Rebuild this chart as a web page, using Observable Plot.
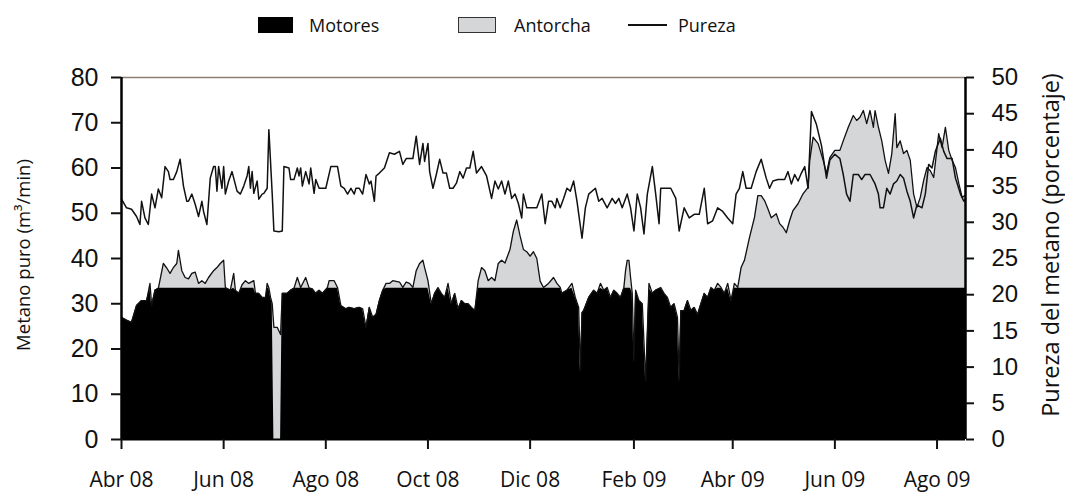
<!DOCTYPE html>
<html>
<head>
<meta charset="utf-8">
<script src="https://cdn.jsdelivr.net/npm/d3@7"></script>
<script src="https://cdn.jsdelivr.net/npm/@observablehq/plot@0.6"></script>
<style>
  body { margin: 0; background: #fff; font-family: "Open Sans", sans-serif; color: #111; }
  #legend { position: relative; width: 1065px; height: 52px; }
  #legend .sw { position: absolute; top: 17px; height: 16px; box-sizing: border-box; }
  #legend .ln { position: absolute; top: 24px; height: 1.5px; background: #111; }
  #legend .lb { position: absolute; top: 12px; font-size: 18px; line-height: 26px; }
</style>
</head>
<body>
<div id="legend">
  <div class="sw" style="left:258px;width:35px;background:#000;"></div>
  <div class="lb" style="left:309px;">Motores</div>
  <div class="sw" style="left:458px;width:38px;background:#d4d6d8;border:1.5px solid #333;"></div>
  <div class="lb" style="left:514px;">Antorcha</div>
  <div class="ln" style="left:628px;width:39px;"></div>
  <div class="lb" style="left:678px;">Pureza</div>
</div>
<div id="chart"></div>
<script>
// Day offsets counted from 1 April 2008
const inicio = new Date(2008, 3, 1);

// Metano puro (m³/min): total = Motores + Antorcha
const metanoDias = [0,3,6,9,12,15,17,18,20,22,25,27,29,31,33,34,36,38,40,42,44,46,48,50,52,55,57,59,61,62,65,67,68,70,72,74,76,79,80,82,84,86,87,88,89,90,91,93,95,96,97,99,101,103,105,107,110,112,114,116,118,120,123,124,127,129,131,134,136,139,142,144,146,148,150,152,154,156,158,160,162,166,168,170,172,174,176,178,180,181,183,185,187,189,191,193,195,197,199,201,203,205,207,209,211,213,215,217,219,221,223,225,227,229,232,234,236,238,240,242,244,246,248,250,252,255,258,260,262,263,266,269,271,273,274,275,276,279,282,284,286,288,290,292,294,296,298,300,301,302,303,304,305,306,307,309,311,313,315,317,319,322,324,326,328,330,332,333,334,336,338,340,342,344,346,348,350,352,354,356,358,360,362,364,366,368,370,372,375,378,380,382,384,386,388,391,393,395,397,399,401,404,407,410,411,413,416,419,421,423,426,429,431,434,437,439,441,443,445,447,449,450,452,454,456,458,460,462,463,465,467,469,471,473,475,477,479,481,483,485,488,490,492,494,496,498,500,502,504];
const metanoTotal = [27,26.4,25.9,29.6,30.7,30.7,34.5,29.6,33,33.4,38.9,37.9,36.7,38,38.9,41.8,37.3,35.8,35.5,36.7,37,34.5,35.1,34.5,35.8,37.3,38,38.9,39.6,33.6,33,36.7,33,32.3,34.2,35.1,34.5,35.1,32.3,32.3,31.4,31.4,34.5,33.5,31.4,30,24.8,24.8,23.2,32.3,32.3,32.3,33,33.4,35.8,33.6,35.8,33.5,33.3,32.3,33,32.3,33.6,35.1,35.1,33.6,29.6,28.9,29.2,28.9,29.2,28.9,24.8,29.2,27,27.6,30.7,33,34.5,34.5,35.1,34.8,33.6,34.8,34.5,33.6,37.3,38.9,39.6,38,35.1,30,32.3,33.6,32.3,31.4,34.5,30,32.3,28.9,30.7,30,30,29.2,28.5,35.1,38,37.3,35.1,35.8,35.1,38.9,39.6,39,42,46,48.5,45,42,41.5,40.5,41.5,40,35,33.6,34.5,35.8,34.5,33.6,32.3,33,34.5,31.4,29.2,15.2,28,28.5,31.4,33,32.3,34.5,33,33.6,31.4,33,32.3,31.4,33.6,37.3,39.6,39.6,35.8,32.3,17.5,33,30.7,30,13,34.5,32.3,33,33.6,32.3,31.4,29.2,30,27,13,28.5,28.5,30.7,28.5,29.2,27.6,30,32.3,31.4,33.6,33,34.5,33.6,32.3,34.5,30.7,34.5,33.6,38,39.6,44.6,49.1,53.9,53.9,52.8,51,49,49.9,47.7,46.9,45.7,48.4,50.6,52.1,54.3,55.7,61.7,66.8,65.4,61.7,58.8,62.3,63.9,63.9,66,69,71.6,70.5,71.2,72.7,69.8,72.7,69,72.7,69,66,61.7,58.8,63.2,72,64.5,66,63.2,63.9,61.7,54.3,51.3,53.5,57.2,60.1,59.4,57.9,67.6,64.5,69,63.9,61.7,60.1,56.6,53.5,54];
// Part of the same gas burnt in the engines
const motores = [27,26.4,25.9,29.6,30.7,30.7,33.4,29.6,33,33.4,33.4,33.4,33.4,33.4,33.4,33.4,33.4,33.4,33.4,33.4,33.4,33.4,33.4,33.4,33.4,33.4,33.4,33.4,33.4,33.4,33,33.4,33,32.3,33.4,33.4,33.4,33.4,32.3,32.3,31.4,31.4,33.4,33.4,31.4,30,0,0,0,32.3,32.3,32.3,33,33.4,33.4,33.4,33.4,33.4,33.3,32.3,33,32.3,33.4,33.4,33.4,33.4,29.6,28.9,29.2,28.9,29.2,28.9,24.8,29.2,27,27.6,30.7,33,33.4,33.4,33.4,33.4,33.4,33.4,33.4,33.4,33.4,33.4,33.4,33.4,33.4,30,32.3,33.4,32.3,31.4,33.4,30,32.3,28.9,30.7,30,30,29.2,28.5,33.4,33.4,33.4,33.4,33.4,33.4,33.4,33.4,33.4,33.4,33.4,33.4,33.4,33.4,33.4,33.4,33.4,33.4,33.4,33.4,33.4,33.4,33.4,33.4,32.3,33,33.4,31.4,29.2,15.2,28,28.5,31.4,33,32.3,33.4,33,33.4,31.4,33,32.3,31.4,33.4,33.4,33.4,33.4,33.4,32.3,17.5,33,30.7,30,13,33.4,32.3,33,33.4,32.3,31.4,29.2,30,27,13,28.5,28.5,30.7,28.5,29.2,27.6,30,32.3,31.4,33.4,33,33.4,33.4,32.3,33.4,30.7,33.4,33.4,33.4,33.4,33.4,33.4,33.4,33.4,33.4,33.4,33.4,33.4,33.4,33.4,33.4,33.4,33.4,33.4,33.4,33.4,33.4,33.4,33.4,33.4,33.4,33.4,33.4,33.4,33.4,33.4,33.4,33.4,33.4,33.4,33.4,33.4,33.4,33.4,33.4,33.4,33.4,33.4,33.4,33.4,33.4,33.4,33.4,33.4,33.4,33.4,33.4,33.4,33.4,33.4,33.4,33.4,33.4,33.4,33.4,33.4,33.4,33.4,33.4,33.4,33.4,33.4,33.4,33.4];

// Pureza del metano (%)
const purezaDias = [0,3,6,9,11,12,14,16,18,20,22,24,26,28,29,31,33,35,37,39,40,42,44,46,48,49,51,53,55,56,57,58,60,61,62,64,66,67,69,71,73,75,76,77,78,79,81,82,84,85,87,88,90,91,94,96,97,100,101,103,105,106,107,108,110,112,113,115,116,118,120,122,125,127,129,131,133,135,137,139,140,142,144,146,148,149,151,152,154,157,160,163,166,168,170,174,176,178,180,181,183,184,186,188,190,192,194,196,198,200,202,204,206,208,210,212,215,218,221,223,225,227,229,231,233,235,237,239,240,242,245,248,251,253,255,257,259,260,262,264,266,268,270,272,275,277,279,283,285,287,290,293,295,297,299,302,304,306,308,310,312,314,317,319,321,322,328,331,333,336,339,342,345,348,350,353,356,359,362,365,367,369,371,373,376,379,382,385,387,389,392,396,398,400,402,404,406,408,410,412,415,418,421,423,426,429,431,433,435,437,440,442,444,447,450,452,453,455,457,459,461,463,465,467,469,471,473,475,478,480,482,484,486,489,491,493,496,498,501,503,504];
const pureza = [33.2,32,31.8,30.8,29.7,32.9,30.6,29.7,33.9,32,34.6,33.4,37.7,37,35.9,35.9,37,38.7,35,32.9,32.9,33.9,32.5,30.8,32.9,31.5,29.7,36.1,37.7,37.7,34.3,37.7,34.7,37.7,33.9,35.7,37,36.1,34.3,33.9,35,36.4,37.7,34.7,37,34,35.7,33.2,33.9,34,34.7,42.8,33.9,28.8,28.7,28.8,37.7,37.5,35.9,35.9,37.5,36.4,37.5,35,37,35.3,37.5,34,35.9,34.7,34.7,34.7,37.7,37.7,37.7,35,34.7,33.9,34.7,33.9,34.7,34.7,33.9,36.6,35.3,35.7,32.9,36.4,36.8,37.5,39.6,39.4,39.8,38,38.8,38.8,41.9,38,40.9,38.4,40.9,37,34.7,36.6,38.7,36.8,36.8,34.7,34.7,35.4,37,36.1,37.5,37.5,39.8,36.8,37.7,36.4,33.3,35.7,34.6,35.7,33.9,35.7,33.3,33.9,32.6,30.6,33.9,32,32,32,33.9,29.8,32.9,32.9,32,33.3,32,33.3,34.7,34.3,35.7,32.9,27.8,32,33.9,34.7,32.9,33.3,32,33.3,32.6,33.3,32,33.9,32,28.8,33.9,32,28.4,33.9,37.7,33.9,29.8,34.7,34.7,33.3,28.8,32,30.6,31.1,31.1,34.7,29.8,30.2,32,31.5,30.6,29.8,33.9,34.7,37,34.7,34.7,37,38.7,36.1,34.7,35.7,35.9,35.9,37,35.3,36.6,35.7,36.8,37.7,34.7,45.3,43.5,40.6,36.1,38.6,39.4,38.8,36.6,33.9,32.9,36.6,36.6,35.9,36.6,36.6,35.3,33.9,32,32,34.7,33.9,35.3,35.7,36.6,36.1,34.3,32.9,30.6,32.4,32,33.9,38,37.5,39.8,41.6,39.8,38.8,38.8,36.1,33.9,32.9,33.2];

// Axes
const ticksIzq = [0,10,20,30,40,50,60,70,80];
const ticksDer = [0,5,10,15,20,25,30,35,40,45,50];
const mesesTicks = ["2008-04-01","2008-06-01","2008-08-01","2008-10-01","2008-12-01","2009-02-01","2009-04-01","2009-06-01","2009-08-01"];
const mesesEtiquetas = ["Abr 08","Jun 08","Ago 08","Oct 08","Dic 08","Feb 09","Abr 09","Jun 09","Ago 09"];
const tituloIzq = "Metano puro (m³/min)";
const tituloDer = "Pureza del metano (porcentaje)";

const fecha = d => d3.timeDay.offset(inicio, d);
const parseDia = s => { const [y, m, d] = s.split("-").map(Number); return new Date(y, m - 1, d); };
const tickFechas = mesesTicks.map(parseDia);
const etiquetaDe = new Map(tickFechas.map((t, i) => [+t, mesesEtiquetas[i]]));

// Purity (0–50 %) shares the 0–80 vertical scale
const escalaPureza = 80 / 50;

const serie = metanoDias.map((d, i) => ({fecha: fecha(d), total: metanoTotal[i], motores: motores[i]}));
const serieP = purezaDias.map((d, i) => ({fecha: fecha(d), p: pureza[i]}));

const xMin = fecha(0), xMax = fecha(metanoDias[metanoDias.length - 1]);
const tickFont = "'Liberation Sans', Arial, sans-serif";

const chart = Plot.plot({
  width: 1065,
  height: 442,
  marginLeft: 121,
  marginRight: 100,
  marginTop: 25,
  marginBottom: 55,
  style: {fontFamily: "'Open Sans', sans-serif", background: "#fff", color: "#111"},
  x: {type: "time", domain: [xMin, xMax]},
  y: {domain: [0, 80]},
  marks: [
    Plot.areaY(serie, {x: "fecha", y: "total", fill: "#d4d6d8", curve: "linear"}),
    Plot.areaY(serie, {x: "fecha", y: "motores", fill: "#000", curve: "linear"}),
    Plot.lineY(serie, {x: "fecha", y: "total", stroke: "#111", strokeWidth: 1.3}),
    Plot.lineY(serieP, {x: "fecha", y: d => d.p * escalaPureza, stroke: "#111", strokeWidth: 1.5}),
    Plot.ruleY([80], {stroke: "#8c8079", strokeWidth: 1.5}),
    Plot.ruleY([0], {stroke: "#000", strokeWidth: 2}),
    Plot.ruleX([xMin], {y1: 0, y2: 80, stroke: "#000", strokeWidth: 2.5}),
    Plot.ruleX([xMax], {y1: 0, y2: 80, stroke: "#000", strokeWidth: 2.5}),
    Plot.axisY(ticksIzq, {anchor: "left", tickSize: 10, tickPadding: 13, strokeWidth: 2, fontSize: 25, fontFamily: tickFont, label: null}),
    Plot.axisY(ticksDer, {anchor: "right", y: d => d * escalaPureza, tickFormat: d => d, tickSize: 8, tickPadding: 18, strokeWidth: 2, fontSize: 24, fontFamily: tickFont, label: null}),
    Plot.axisX(tickFechas, {anchor: "bottom", tickSize: 10, tickPadding: 23, strokeWidth: 2, fontSize: 21, tickFormat: d => etiquetaDe.get(+d), label: null})
  ]
});

const svg = d3.select(chart);
svg.append("text")
  .attr("transform", "translate(22,203) rotate(-90)")
  .attr("text-anchor", "middle").attr("dominant-baseline", "central")
  .style("font-size", "18.5px").style("font-family", "'Open Sans', sans-serif").attr("fill", "#111")
  .text(tituloIzq);
svg.append("text")
  .attr("transform", "translate(1050,193) rotate(-90)")
  .attr("text-anchor", "middle").attr("dominant-baseline", "central")
  .style("font-size", "23.5px").style("font-family", "'Open Sans', sans-serif").attr("fill", "#111")
  .text(tituloDer);

document.getElementById("chart").appendChild(chart);
</script>
</body>
</html>
